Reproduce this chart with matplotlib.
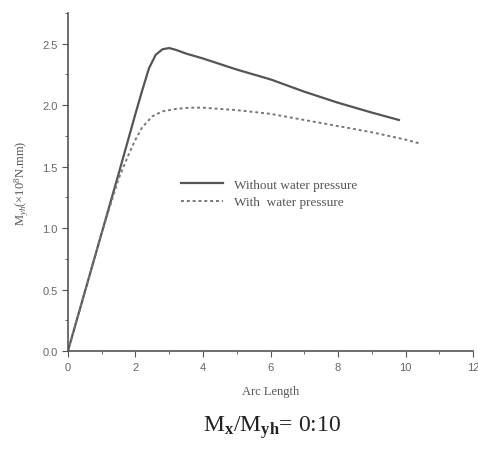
import matplotlib.pyplot as plt
from matplotlib.ticker import MultipleLocator

plt.rcParams['mathtext.fontset'] = 'custom'
plt.rcParams['mathtext.rm'] = 'Liberation Serif'
plt.rcParams['mathtext.it'] = 'Liberation Serif:italic'
plt.rcParams['mathtext.bf'] = 'Liberation Serif:bold'

# Arc length vs moment
arc_dry = [0.0, 0.5, 1.0, 1.5, 2.0, 2.2, 2.4, 2.6, 2.8, 3.0, 3.2, 3.5, 4.0, 5.0, 6.0, 7.0, 8.0, 9.0, 9.8]
m_dry = [0.0, 0.48, 0.96, 1.44, 1.93, 2.12, 2.30, 2.41, 2.455, 2.465, 2.45, 2.42, 2.38, 2.29, 2.21, 2.11, 2.02, 1.94, 1.88]

arc_wet = [0.0, 0.5, 1.0, 1.5, 1.8, 2.0, 2.2, 2.5, 2.8, 3.2, 3.6, 4.0, 5.0, 6.0, 7.0, 8.0, 9.0, 10.0, 10.4]
m_wet = [0.0, 0.48, 0.96, 1.40, 1.60, 1.72, 1.82, 1.91, 1.95, 1.97, 1.98, 1.98, 1.96, 1.93, 1.88, 1.83, 1.78, 1.72, 1.69]

fig = plt.figure(figsize=(4.78, 4.52), dpi=100)
ax = fig.add_axes([0.142, 0.221, 0.848, 0.748])

ax.plot(arc_dry, m_dry, color='#555555', lw=1.6, label='Without water pressure')
ax.plot(arc_wet, m_wet, color='#777777', lw=1.4, ls=(0, (1.5, 1.5)), label='With  water pressure')

ax.set_xlim(0, 12)
ax.set_ylim(0, 2.75)
ax.xaxis.set_major_locator(MultipleLocator(2))
ax.xaxis.set_minor_locator(MultipleLocator(1))
ax.yaxis.set_major_locator(MultipleLocator(0.5))
ax.yaxis.set_minor_locator(MultipleLocator(0.25))
for s in ['top', 'right']:
    ax.spines[s].set_visible(False)
for s in ['left', 'bottom']:
    ax.spines[s].set_color('#555555')
    ax.spines[s].set_linewidth(1.2)
ax.tick_params(which='both', colors='#555555', labelsize=8, labelcolor='#666666')
ax.tick_params(which='major', length=4)
ax.tick_params(which='minor', length=2.5)
for lab in ax.get_xticklabels() + ax.get_yticklabels():
    lab.set_family('Liberation Sans')

ax.set_xlabel('Arc Length', family='Liberation Serif', fontsize=9, color='#555555', labelpad=10)
ax.set_ylabel(r'M$_{yh}$(×10$^8$N.mm)', family='Liberation Serif', fontsize=9, color='#555555', labelpad=8)

leg = ax.legend(loc='upper left', bbox_to_anchor=(0.25, 0.545), frameon=False,
                prop={'family': 'Liberation Serif', 'size': 9.5}, handlelength=3.2,
                labelspacing=0.4)
for t in leg.get_texts():
    t.set_color('#555555')

fig.text(0.57, 0.025, r'M$_{\mathbf{x}}$/M$_{\mathbf{yh}}$= 0:10', ha='center', va='bottom',
         fontsize=17, family='Liberation Serif', color='#222222')

fig.savefig('out.png', dpi=100)
